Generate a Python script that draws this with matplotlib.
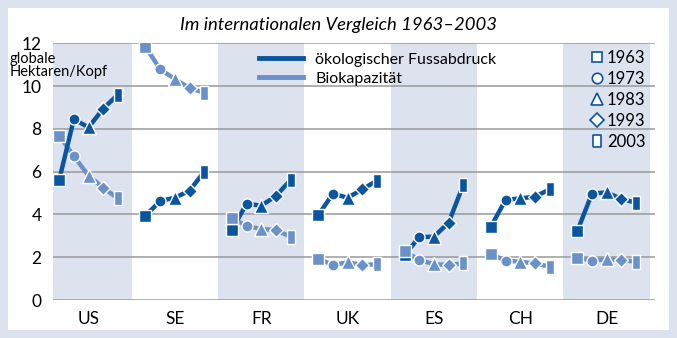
import matplotlib
matplotlib.use("Agg")
import matplotlib.pyplot as plt
from matplotlib.lines import Line2D
from matplotlib.patches import Rectangle

plt.rcParams['font.family'] = ['Lato', 'DejaVu Sans']

# data
countries = ["US", "SE", "FR", "UK", "ES", "CH", "DE"]
years = ["1963", "1973", "1983", "1993", "2003"]
footprint = [
    [5.6, 8.45, 8.07, 8.94, 9.6],    # US
    [3.94, 4.63, 4.78, 5.11, 6.0],   # SE
    [3.27, 4.5, 4.41, 4.86, 5.61],   # FR
    [3.96, 4.97, 4.78, 5.17, 5.58],  # UK
    [2.1, 2.94, 2.96, 3.61, 5.38],   # ES
    [3.43, 4.68, 4.75, 4.83, 5.17],  # CH
    [3.21, 4.97, 5.03, 4.72, 4.55],  # DE
]
biocapacity = [
    [7.68, 6.73, 5.81, 5.25, 4.75],
    [11.84, 10.78, 10.33, 9.9, 9.69],
    [3.82, 3.46, 3.32, 3.27, 2.96],
    [1.93, 1.64, 1.76, 1.64, 1.67],
    [2.27, 1.88, 1.67, 1.64, 1.71],
    [2.15, 1.84, 1.79, 1.71, 1.56],
    [1.98, 1.84, 1.90, 1.87, 1.79],
]

dark = "#0b559f"
light = "#6b92c8"
band = "#dde2ef"
tall_rect = [(-0.3, -0.5), (0.3, -0.5), (0.3, 0.5), (-0.3, 0.5), (-0.3, -0.5)]
markers = ["s", "o", "^", "D", tall_rect]
msizes = [8, 8, 9.5, 7.5, 9.5]
offsets = [-0.34, -0.17, 0.0, 0.17, 0.34]

fig = plt.figure(figsize=(6.77, 3.38), dpi=100, facecolor=band)
fig.patches.append(Rectangle((8 / 677, 8 / 338), 661 / 677, 322 / 338,
                             transform=fig.transFigure, facecolor="white",
                             edgecolor="none", zorder=-10))
ax = fig.add_axes([0.0778, 0.1124, 0.8903, 0.7596])
ax.set_facecolor("none")

xlo, xhi = -0.415, 6.565
for i in range(len(countries)):
    if i % 2 == 0:
        ax.axvspan(max(i - 0.5, xlo), min(i + 0.5, xhi), color=band, lw=0, zorder=0)

for y in range(0, 13, 2):
    ax.axhline(y, color="#9a9a9a", lw=1.1, zorder=1)

for i in range(len(countries)):
    xs = [i + o for o in offsets]
    ax.plot(xs, biocapacity[i], color=light, lw=3.2, zorder=2, solid_capstyle="butt")
    ax.plot(xs, footprint[i], color=dark, lw=3.2, zorder=3, solid_capstyle="butt")
    for k in range(len(years)):
        ax.plot(xs[k], footprint[i][k], marker=markers[k], ms=msizes[k], color=dark,
                mec="white", mew=1.0, zorder=4)
        ax.plot(xs[k], biocapacity[i][k], marker=markers[k], ms=msizes[k], color=light,
                mec="white", mew=1.0, zorder=5)

ax.set_xlim(xlo, xhi)
ax.set_ylim(0, 12)
ax.set_xticks(range(len(countries)))
ax.set_xticklabels(countries)
ax.set_yticks(range(0, 13, 2))
ax.tick_params(length=0, labelsize=12.5, pad=8)
for s in ax.spines.values():
    s.set_visible(False)

fig.text(10 / 677, 1 - 52 / 338, "globale\nHektaren/Kopf", fontsize=10.5, linespacing=0.9,
         va="top", ha="left", zorder=6)

line_handles = [Line2D([], [], color=dark, lw=3.5), Line2D([], [], color=light, lw=3.5)]
leg1 = ax.legend(line_handles, ["ökologischer Fussabdruck", "Biokapazität"],
                 loc="upper left", bbox_to_anchor=(0.318, 1.02), frameon=False,
                 fontsize=11.5, handlelength=2.8, handletextpad=0.75, labelspacing=0.3)
ax.add_artist(leg1)

year_handles = [Line2D([], [], ls="none", marker=markers[k], ms=msizes[k] - 0.5, mfc="white",
                       mec=dark, mew=1.2) for k in range(len(years))]
ax.legend(year_handles, years, loc="upper right", bbox_to_anchor=(1.0, 1.012),
          frameon=False, fontsize=12, handlelength=0.6, handletextpad=0.3,
          labelspacing=0.3, borderaxespad=0.2)

fig.text(0.5, 0.926, "Im internationalen Vergleich 1963–2003", ha="center", va="center",
         fontsize=13.3, style="italic")

fig.savefig("out.png", dpi=100, facecolor=band)
